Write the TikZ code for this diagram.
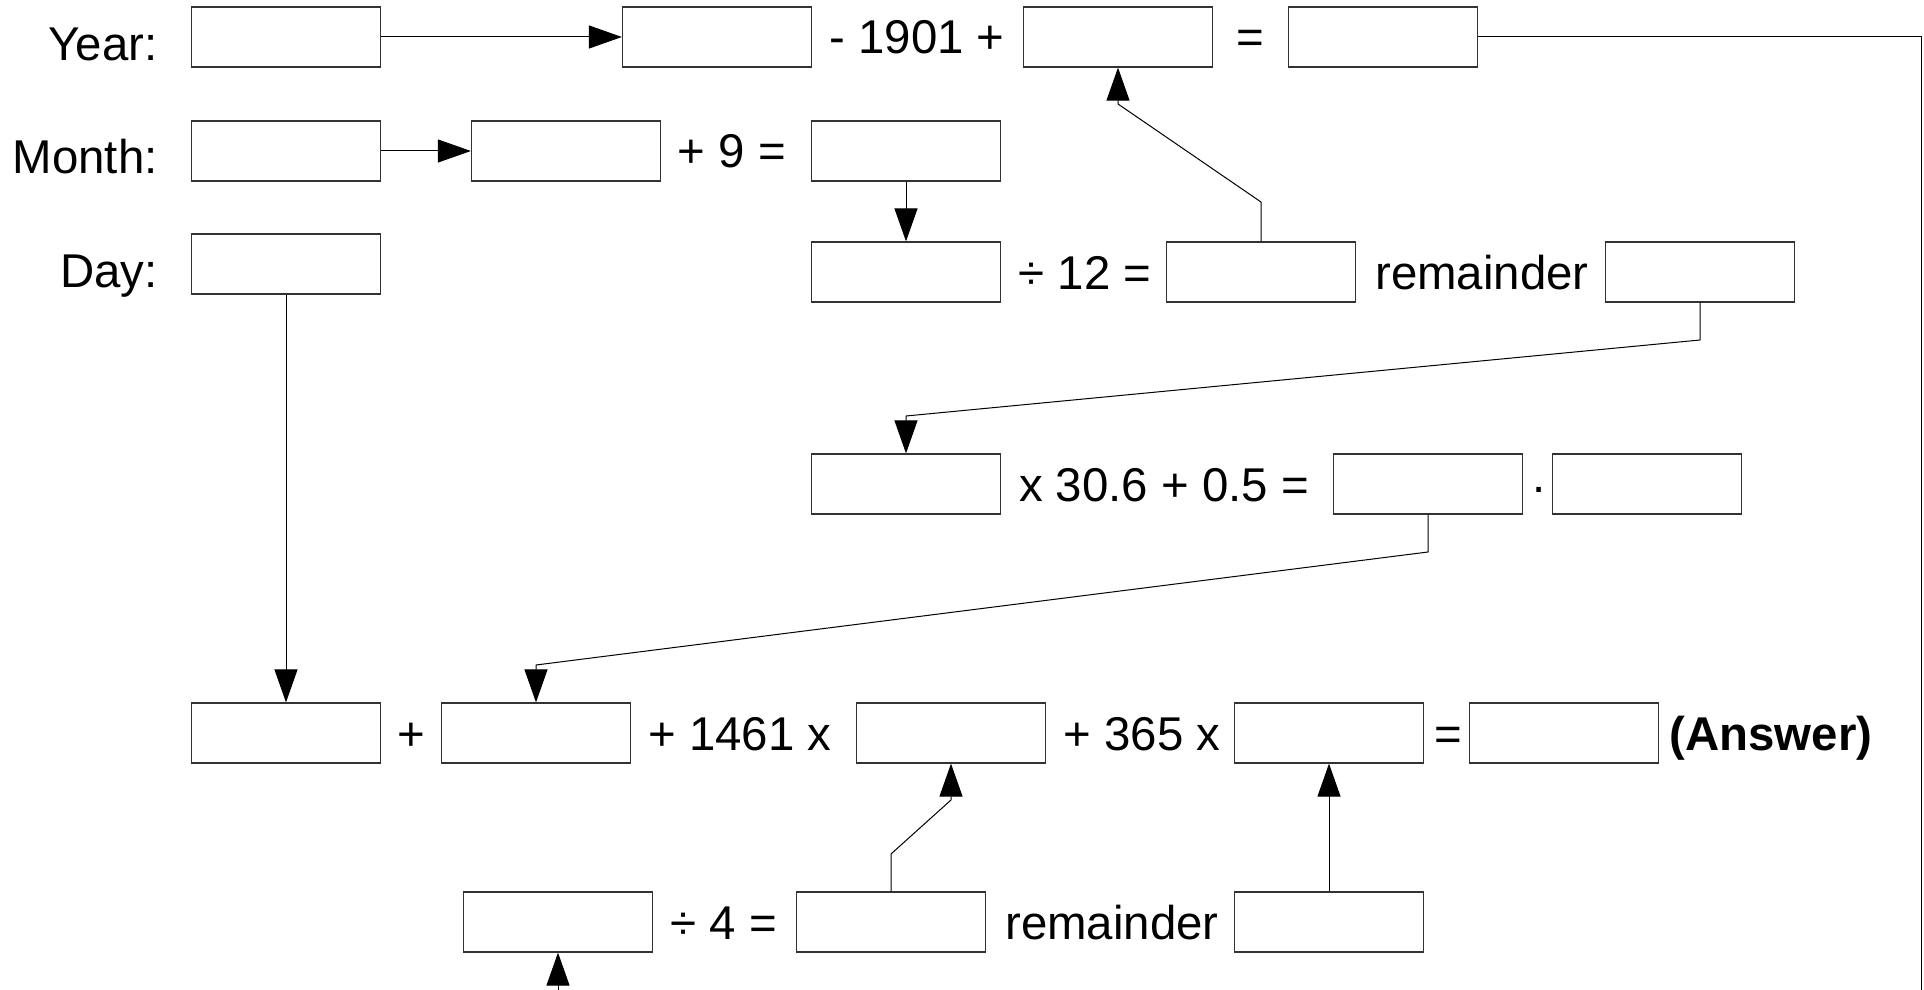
\documentclass[tikz,border=0pt]{standalone}
\usepackage{fontspec}
\setmainfont{Liberation Sans}
\usetikzlibrary{arrows.meta}

\begin{document}
\begin{tikzpicture}[x=0.5pt, y=-0.5pt,
    every node/.style={font=\fontsize{23.7}{28}\selectfont},
    cell/.style={draw=black!80, line width=0.6pt, minimum width=94.5pt, minimum height=30pt, inner sep=0pt},
    lbl/.style={inner sep=0pt, text height=17pt, text depth=0pt},
    flow/.style={draw, line width=0.5pt, -{Triangle[length=16.5pt, width=11.5pt]}}]
    \useasboundingbox (0,0) rectangle (1924,990);

    % year
    \node[lbl, anchor=east] (ylbl) at (158,44) {Year:};
    \node[cell] (yin) at (286,37) {};
    \node[cell] (ycopy) at (717,37) {};
    \node[lbl] (ysub) at (917,37) {- 1901 +};
    \node[cell] (yadd) at (1118,37) {};
    \node[lbl] (yeq) at (1250,37) {=};
    \node[cell] (yres) at (1383,37) {};

    % month
    \node[lbl, anchor=east] (mlbl) at (158,157) {Month:};
    \node[cell] (min) at (286,151) {};
    \node[cell] (mcopy) at (566,151) {};
    \node[lbl] (mplus) at (732,151) {+ 9 =};
    \node[cell] (mres) at (906,151) {};

    % day
    \node[lbl, anchor=east] (dlbl) at (158,270) {Day:};
    \node[cell] (din) at (286,264) {};

    \node[cell] (dvd) at (906,272) {};
    \node[lbl] (dvdt) at (1085,272) {÷ 12 =};
    \node[cell] (quo) at (1261,272) {};
    \node[lbl] (remt) at (1482,272) {remainder};
    \node[cell] (rem) at (1700,272) {};

    \node[cell] (mul) at (906,484) {};
    \node[lbl] (mult) at (1164,484) {x 30.6 + 0.5 =};
    \node[cell] (whole) at (1428,484) {};
    \node[anchor=base, inner sep=0pt] (dot) at (1539,492) {.};
    \node[cell] (frac) at (1647,484) {};

    % sum
    \node[cell] (sa) at (286,733) {};
    \node[lbl] (sat) at (411,733) {+};
    \node[cell] (sb) at (536,733) {};
    \node[lbl] (sbt) at (740,733) {+ 1461 x};
    \node[cell] (sc) at (951,733) {};
    \node[lbl] (sct) at (1142,733) {+ 365 x};
    \node[cell] (sd) at (1329,733) {};
    \node[lbl] (sdt) at (1448,733) {=};
    \node[cell] (ans) at (1564,733) {};
    \node[lbl] (anst) at (1771,733) {\bfseries (Answer)};

    \node[cell] (qa) at (558,922) {};
    \node[lbl] (qat) at (724,922) {÷ 4 =};
    \node[cell] (qb) at (891,922) {};
    \node[lbl] (qbt) at (1112,922) {remainder};
    \node[cell] (qc) at (1329,922) {};

    % arrows
    \draw[flow] (yin) -- (ycopy);
    \draw[flow] (min) -- (mcopy);
    \draw[flow] (mres) -- (dvd);
    \draw[flow] (quo.north) -- (1261,202) -- (1118,104) -- (yadd.south);
    \draw[flow] (rem.south) -- (1700,340) -- (906,416) -- (mul.north);
    \draw[flow] (whole.south) -- (1428,552) -- (536,665) -- (sb.north);
    \draw[flow] (din) -- (sa);
    \draw[flow] (qb.north) -- (891,854) -- (951,800) -- (sc.south);
    \draw[flow] (qc) -- (sd);
    \draw[flow] (yres.east) -- (1921,37) -- (1921,1040) -- (558,1040) -- (qa.south);
\end{tikzpicture}
\end{document}
